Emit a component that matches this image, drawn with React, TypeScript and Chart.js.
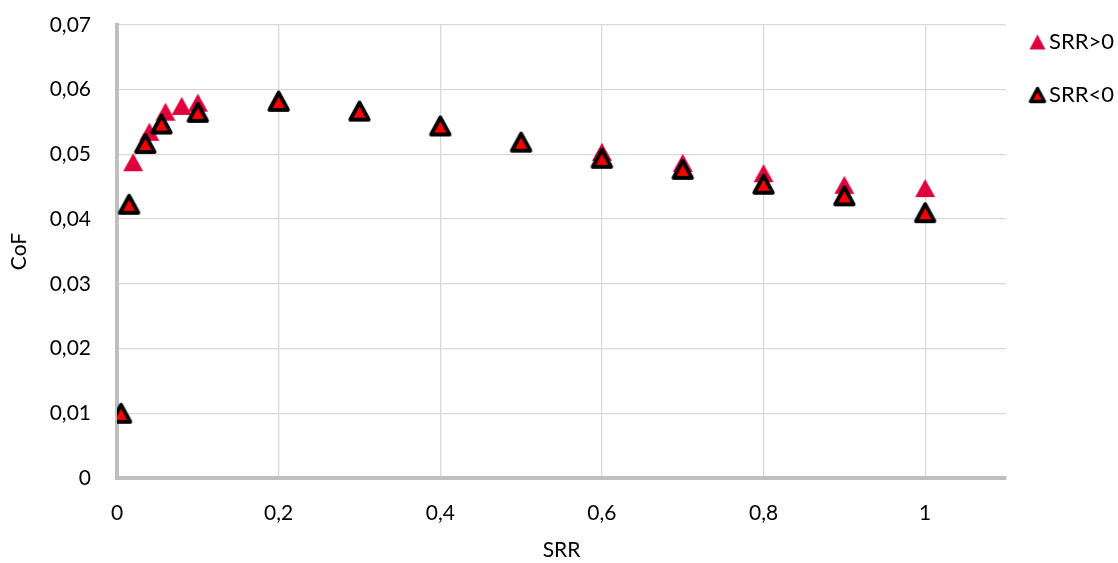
import React, { useEffect, useRef } from "react";
import { Chart, registerables } from "chart.js";

Chart.register(...registerables);

const posX = [0.005, 0.02, 0.04, 0.06, 0.08, 0.1, 0.2, 0.3, 0.4, 0.5, 0.6, 0.7, 0.8, 0.9, 1.0];
const posY = [0.010, 0.0488, 0.0535, 0.0566, 0.0575, 0.0580, 0.0586, 0.0568, 0.0546, 0.0521, 0.0504, 0.0487, 0.0471, 0.0453, 0.0448];
const negX = [0.005, 0.015, 0.035, 0.055, 0.1, 0.2, 0.3, 0.4, 0.5, 0.6, 0.7, 0.8, 0.9, 1.0];
const negY = [0.0100, 0.0423, 0.0517, 0.0547, 0.0565, 0.0582, 0.0567, 0.0544, 0.0519, 0.0494, 0.0477, 0.0454, 0.0436, 0.0410];
const xTicks = [0, 0.2, 0.4, 0.6, 0.8, 1];
const yTicks = [0, 0.01, 0.02, 0.03, 0.04, 0.05, 0.06, 0.07];
const seriesNames = ["SRR>0", "SRR<0"];

const fmt = (v: number) => {
  const r = Math.round(v * 1000) / 1000;
  return r === 0 ? "0" : String(r).replace(".", ",");
};

// triangle marker image, centred on its bounding box
function makeTriangle(w: number, h: number, fill: string, stroke: string | null, lw: number) {
  const pad = lw / 2 + 1;
  const size = Math.ceil(Math.max(w, h) + 2 * pad);
  const c = document.createElement("canvas");
  c.width = size;
  c.height = size;
  const ctx = c.getContext("2d")!;
  const cx = size / 2;
  const cy = size / 2;
  ctx.beginPath();
  ctx.moveTo(cx, cy - h / 2);
  ctx.lineTo(cx + w / 2, cy + h / 2);
  ctx.lineTo(cx - w / 2, cy + h / 2);
  ctx.closePath();
  ctx.fillStyle = fill;
  ctx.fill();
  if (stroke) {
    ctx.lineJoin = "round";
    ctx.lineWidth = lw;
    ctx.strokeStyle = stroke;
    ctx.stroke();
  }
  return c;
}

export default function App() {
  const ref = useRef<HTMLCanvasElement>(null);
  useEffect(() => {
    document.body.style.margin = "0";
    const font = "Lato, 'Open Sans', 'DejaVu Sans', sans-serif";
    const redTri = makeTriangle(20, 18, "#E0003C", null, 0);
    const blackTri = makeTriangle(18.5, 17, "#FF0000", "#000000", 3.8);
    const redTriLegend = makeTriangle(16, 15, "#E0003C", null, 0);
    const blackTriLegend = makeTriangle(14, 13, "#FF0000", "#000000", 3.4);
    const legendImgs = [redTriLegend, blackTriLegend];
    const chart = new Chart(ref.current!, {
      type: "scatter",
      data: {
        datasets: [
          {
            label: seriesNames[0],
            data: posX.map((x, i) => ({ x, y: posY[i] })),
            pointStyle: redTri as any,
            pointRadius: 10,
            backgroundColor: "#E0003C",
            borderColor: "#E0003C",
            borderWidth: 0,
            order: 2,
          },
          {
            label: seriesNames[1],
            data: negX.map((x, i) => ({ x, y: negY[i] })),
            pointStyle: blackTri as any,
            pointRadius: 10,
            backgroundColor: "#FF0000",
            borderColor: "#000000",
            borderWidth: 0,
            order: 1,
          },
        ],
      },
      options: {
        animation: false,
        responsive: false,
        layout: { padding: { top: 0, left: 0, right: 0, bottom: 0 } },
        plugins: {
          tooltip: { enabled: false },
          legend: {
            position: "right",
            align: "start",
            maxWidth: 112,
            labels: {
              usePointStyle: true,
              boxWidth: 1,
              boxHeight: 16,
              padding: 31,
              color: "#000",
              font: { family: font, size: 22 },
              sort: (a: any, b: any) => a.datasetIndex - b.datasetIndex,
              generateLabels: (c: any) =>
                Chart.defaults.plugins.legend.labels
                  .generateLabels(c)
                  .map((it: any) => ({ ...it, pointStyle: legendImgs[it.datasetIndex] })),
            },
          },
        },
        scales: {
          x: {
            type: "linear",
            min: 0,
            max: 1.1,
            afterBuildTicks: (s: any) => {
              s.ticks = xTicks.map((v) => ({ value: v }));
            },
            afterFit: (s: any) => {
              s.height = 85;
            },
            ticks: {
              color: "#000",
              font: { family: font, size: 21 },
              padding: 23,
              callback: (v: any) => fmt(Number(v)),
            },
            grid: { color: "#d9d9d9", lineWidth: 1.3, drawTicks: false },
            border: { color: "#bfbfbf", width: 4 },
            title: {
              display: true,
              text: "SRR",
              color: "#000",
              font: { family: font, size: 21 },
              padding: { top: 0, bottom: 0 },
            },
          },
          y: {
            type: "linear",
            min: 0,
            max: 0.07,
            afterBuildTicks: (s: any) => {
              s.ticks = yTicks.map((v) => ({ value: v }));
            },
            afterFit: (s: any) => {
              s.width = 117;
              s.paddingTop = 25;
              s.paddingBottom = 0;
            },
            ticks: {
              color: "#000",
              font: { family: font, size: 21 },
              padding: 26,
              callback: (v: any) => fmt(Number(v)),
            },
            grid: { color: "#d9d9d9", lineWidth: 1.3, drawTicks: false },
            border: { color: "#bfbfbf", width: 4 },
            title: {
              display: true,
              text: "CoF",
              color: "#000",
              font: { family: font, size: 21 },
              padding: { top: 7, bottom: 0 },
            },
          },
        },
      },
    });
    return () => chart.destroy();
  }, []);
  return (
    <div style={{ width: 1118, height: 563 }}>
      <canvas ref={ref} width={1118} height={563} />
    </div>
  );
}
